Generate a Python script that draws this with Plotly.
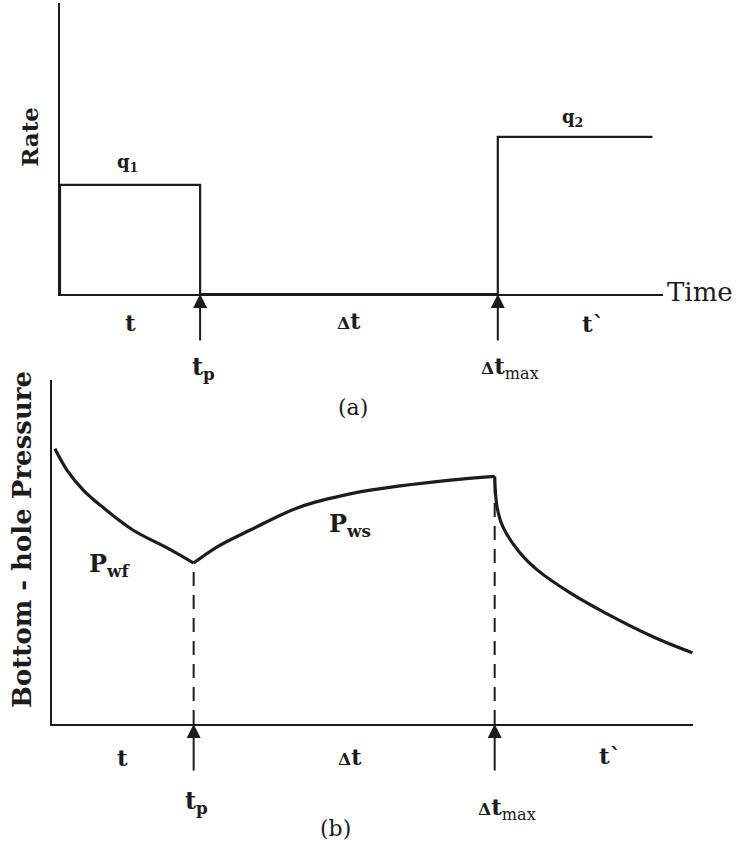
import plotly.graph_objects as go

# ---------------- data (arbitrary time / rate / pressure units) ----------------
t_p = 2.4          # end of first flow period
dt_max = 7.5       # end of shut-in (start of second flow period)
t_rate_end = 10.15
q1 = 3.75
q2 = 5.4

rate_time = [0, 0, t_p, t_p, dt_max, dt_max, t_rate_end]
rate_vals = [0, q1, q1, 0, 0, q2, q2]

pwf_time = [0.05, 0.25, 0.53, 0.81, 1.37, 1.95, 2.4]
pwf_vals = [8.0, 7.39, 6.80, 6.37, 5.64, 5.12, 4.68]

pws_time = [2.4, 2.8, 3.36, 4.2, 5.05, 5.9, 6.75, 7.5]
pws_vals = [4.68, 5.15, 5.64, 6.31, 6.69, 6.92, 7.09, 7.2]

p2_time = [7.5, 7.54, 7.64, 7.93, 8.22, 8.78, 9.34, 10.19, 10.85]
p2_vals = [7.2, 6.31, 5.73, 4.97, 4.48, 3.81, 3.26, 2.53, 2.07]

# ---------------- figure ----------------
INK = "#1c1c1c"
FONT = "DejaVu Serif"
W, H = 743, 850

fig = go.Figure()

fig.add_trace(go.Scatter(x=rate_time, y=rate_vals, mode="lines",
                         line=dict(color=INK, width=2.2), xaxis="x", yaxis="y",
                         showlegend=False, hoverinfo="skip"))

for tt, vv in [(pwf_time, pwf_vals), (pws_time, pws_vals), (p2_time, p2_vals)]:
    fig.add_trace(go.Scatter(x=tt, y=vv, mode="lines",
                             line=dict(color=INK, width=3.2, shape="spline", smoothing=1.0),
                             xaxis="x2", yaxis="y2", showlegend=False, hoverinfo="skip"))

# dashed verticals
fig.add_trace(go.Scatter(x=[t_p, t_p], y=[0, pwf_vals[-1]], mode="lines",
                         line=dict(color=INK, width=2, dash="14px,9px"),
                         xaxis="x2", yaxis="y2", showlegend=False, hoverinfo="skip"))
fig.add_trace(go.Scatter(x=[dt_max, dt_max], y=[0, pws_vals[-1]], mode="lines",
                         line=dict(color=INK, width=2, dash="14px,9px"),
                         xaxis="x2", yaxis="y2", showlegend=False, hoverinfo="skip"))

ax_common = dict(showgrid=False, zeroline=False, showticklabels=False, ticks="",
                 showline=True, linecolor=INK, linewidth=2.2, fixedrange=True)

fig.update_layout(
    width=W, height=H, autosize=False,
    margin=dict(l=0, r=0, t=0, b=0),
    paper_bgcolor="white", plot_bgcolor="rgba(0,0,0,0)",
    xaxis=dict(domain=[60 / W, 663 / W], range=[0, 10.33], anchor="y", **ax_common),
    yaxis=dict(domain=[1 - 294 / H, 1 - 3 / H], range=[0, 10], anchor="x", **ax_common),
    xaxis2=dict(domain=[52 / W, 693 / W], range=[0, 10.86], anchor="y2", **ax_common),
    yaxis2=dict(domain=[1 - 724 / H, 1 - 380 / H], range=[0, 10], anchor="x2", **ax_common),
)

ann = []


def text(s, x, y, xref, yref, size, xshift=0, yshift=0, angle=0, xanchor="center", bold=True):
    ann.append(dict(text=(f"<b>{s}</b>" if bold else s), x=x, y=y, xref=xref, yref=yref,
                    xshift=xshift, yshift=yshift, showarrow=False, textangle=angle,
                    xanchor=xanchor, yanchor="middle",
                    font=dict(family=FONT, size=size, color=INK)))


def arrow(x, xref, yref):
    ann.append(dict(text="", x=x, y=0, xref=xref, yref=yref, ax=0, ay=48,
                    showarrow=True, arrowhead=2, arrowsize=1.4, arrowwidth=2,
                    arrowcolor=INK, standoff=0))


DELTA = "<span style='font-size:17px'>Δ</span>"
MAX = "<span style='font-weight:normal'><sub>max</sub></span>"

# ---- panel (a)
text("Rate", 30 / W, 5.4, "paper", "y", 23, angle=-90)
text("Time", 10.33, 0, "x", "y", 26, xshift=2, yshift=2, xanchor="left", bold=False)
text("q<sub>1</sub>", 1.15, q1, "x", "y", 18, yshift=22)
text("q<sub>2</sub>", 8.78, q2, "x", "y", 18, yshift=19)
text("t", t_p / 2, 0, "x", "y", 23, yshift=-28)
text(DELTA + "t", (t_p + dt_max) / 2, 0, "x", "y", 22, yshift=-27)
text("t`", 9.13, 0, "x", "y", 23, yshift=-29)
text("t<sub>p</sub>", t_p, 0, "x", "y", 24, xshift=3, yshift=-74)
text(DELTA + "t" + MAX, dt_max, 0, "x", "y", 23, xshift=12, yshift=-73)
text("(a)", 5.02, 0, "x", "y", 22, yshift=-113, bold=False)
arrow(t_p, "x", "y")
arrow(dt_max, "x", "y")

# ---- panel (b)
text("Bottom - hole Pressure", 22 / W, 5.35, "paper", "y2", 26, angle=-90)
text("P<sub>wf</sub>", 0.98, 4.62, "x2", "y2", 24)
text("P<sub>ws</sub>", 5.05, 5.78, "x2", "y2", 24)
text("t", t_p / 2, 0, "x2", "y2", 23, yshift=-33)
text(DELTA + "t", (t_p + dt_max) / 2 + 0.1, 0, "x2", "y2", 22, yshift=-33)
text("t`", 9.46, 0, "x2", "y2", 23, yshift=-31)
text("t<sub>p</sub>", t_p, 0, "x2", "y2", 24, xshift=3, yshift=-78)
text(DELTA + "t" + MAX, dt_max, 0, "x2", "y2", 23, xshift=12, yshift=-84)
text("(b)", 4.8, 0, "x2", "y2", 22, yshift=-104, bold=False)
arrow(t_p, "x2", "y2")
arrow(dt_max, "x2", "y2")

fig.update_layout(annotations=ann)

fig.write_html("out.html", config={"displayModeBar": False},
               post_script="document.body.style.margin='0px';")
